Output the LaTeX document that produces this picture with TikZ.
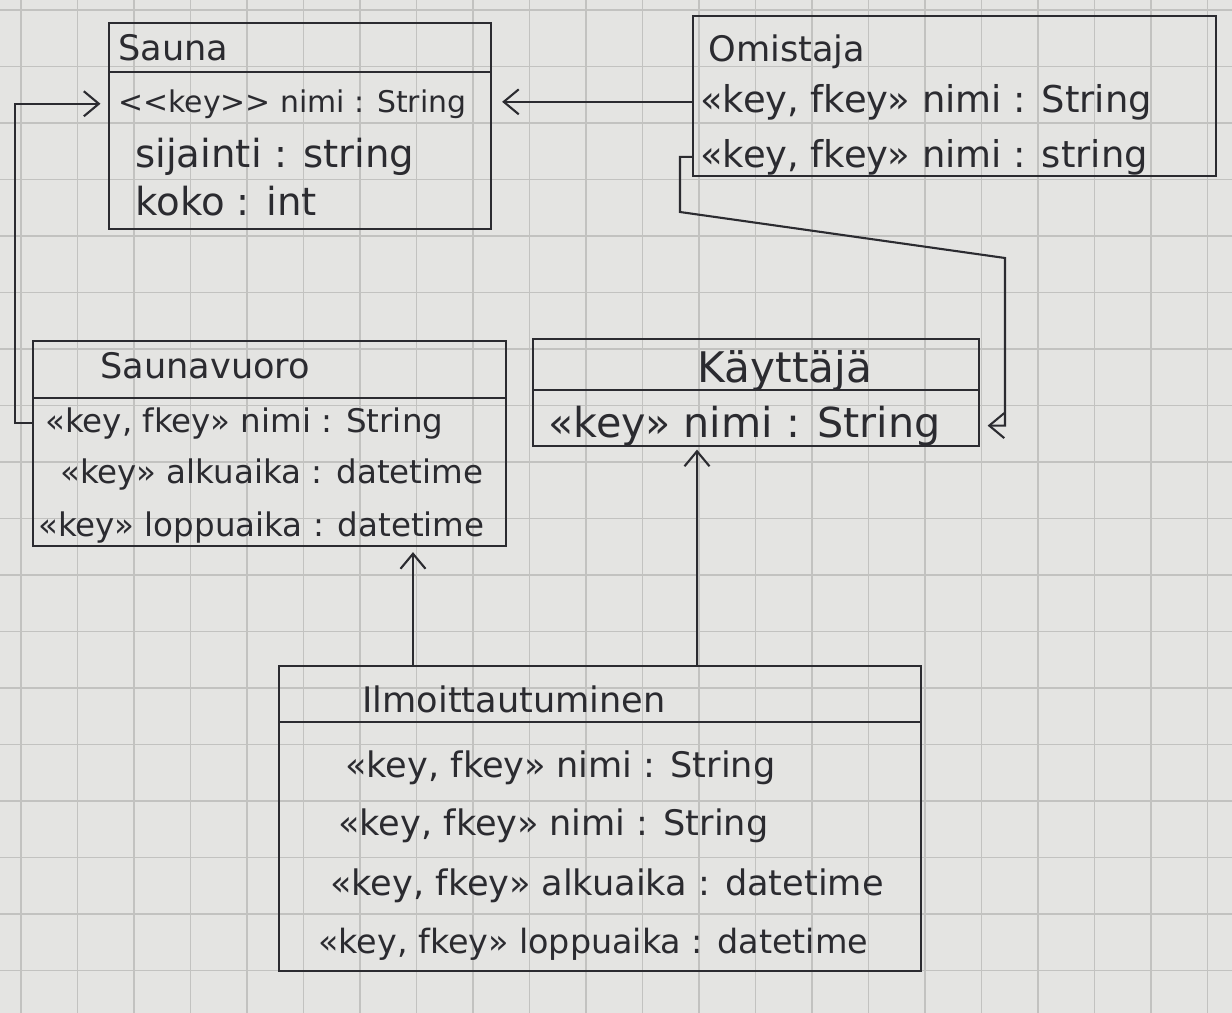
\documentclass[tikz,border=0pt]{standalone}
\usepackage{fontspec}
\setmainfont{DejaVu Sans}
\usetikzlibrary{arrows.meta,positioning,calc}

\definecolor{paper}{HTML}{E4E4E2}
\definecolor{gridline}{HTML}{C2C2C0}
\definecolor{ink}{HTML}{2B2B30}

\tikzset{
	classbox/.style={draw=ink, line width=1.2pt, anchor=north west, inner sep=0pt},
	divider/.style={draw=ink, line width=1.2pt},
	attr/.style={anchor=base west, inner sep=0pt, text=ink, font=\fontsize{20}{24}\selectfont},
	title/.style={attr, font=\fontsize{20}{24}\selectfont},
	assoc/.style={draw=ink, line width=1.2pt, -{Straight Barb[length=3mm,width=5mm]}},
}

\begin{document}
\begin{tikzpicture}[x=0.2mm, y=-0.2mm]
	% paper
	\fill[paper] (0,0) rectangle (1232,1013);
	\useasboundingbox (0,0) rectangle (1232,1013);
	\foreach \gx in {0,...,21}
		\draw[gridline, line width=0.7pt] ({21+56.5*\gx},0) -- ({21+56.5*\gx},1013);
	\foreach \gy in {0,...,17}
		\draw[gridline, line width=0.7pt] (0,{10+56.5*\gy}) -- (1232,{10+56.5*\gy});
	
	% Sauna
	\node[classbox, minimum width=76.4mm, minimum height=41.2mm] (sauna) at (108,22) {};
	\coordinate (saunaDiv) at (0,72);
	\draw[divider] (sauna.west |- saunaDiv) -- (sauna.east |- saunaDiv);
	\node[title] (saunaT) at (118,60) {Sauna};
	\node[attr, font=\fontsize{17}{20}\selectfont] (saunaA1) at (118,112) {{<}{<}key{>}{>} nimi : String};
	\node[attr, font=\fontsize{22}{26}\selectfont] (saunaA2) at (135,167) {sijainti : string};
	\node[attr, font=\fontsize{22}{26}\selectfont] (saunaA3) at (135,215) {koko : int};
	
	% Omistaja
	\node[classbox, minimum width=104.6mm, minimum height=32mm] (omistaja) at (692,15) {};
	\node[title] (omistajaT) at (708,62) {Omistaja};
	\node[attr, font=\fontsize{21}{25}\selectfont] (omistajaA1) at (700,112) {«key, fkey» nimi : String};
	\node[attr, font=\fontsize{21}{25}\selectfont] (omistajaA2) at (700,167) {«key, fkey» nimi : string};
	
	% Saunavuoro
	\node[classbox, minimum width=94.6mm, minimum height=41mm] (vuoro) at (32,340) {};
	\coordinate (vuoroDiv) at (0,398);
	\draw[divider] (vuoro.west |- vuoroDiv) -- (vuoro.east |- vuoroDiv);
	\node[title] (vuoroT) at (100,378) {Saunavuoro};
	\node[attr, font=\fontsize{18.5}{22}\selectfont] (vuoroA1) at (45,432) {«key, fkey» nimi : String};
	\node[attr, font=\fontsize{18.5}{22}\selectfont] (vuoroA2) at (60,483) {«key» alkuaika : datetime};
	\node[attr, font=\fontsize{18.5}{22}\selectfont] (vuoroA3) at (38,536) {«key» loppuaika : datetime};
	
	% Kayttaja
	\node[classbox, minimum width=89.2mm, minimum height=21.4mm] (kayttaja) at (532,338) {};
	\coordinate (kayttajaDiv) at (0,390);
	\draw[divider] (kayttaja.west |- kayttajaDiv) -- (kayttaja.east |- kayttajaDiv);
	\node[title, anchor=base, font=\fontsize{24}{28}\selectfont] (kayttajaT) at (785,382) {Käyttäjä};
	\node[attr, font=\fontsize{23.5}{28}\selectfont] (kayttajaA1) at (548,437) {«key» nimi : String};
	
	% Ilmoittautuminen
	\node[classbox, minimum width=128.4mm, minimum height=61mm] (ilmo) at (278,665) {};
	\coordinate (ilmoDiv) at (0,722);
	\draw[divider] (ilmo.west |- ilmoDiv) -- (ilmo.east |- ilmoDiv);
	\node[title] (ilmoT) at (362,712) {Ilmoittautuminen};
	\node[attr] (ilmoA1) at (345,777) {«key, fkey» nimi : String};
	\node[attr] (ilmoA2) at (338,835) {«key, fkey» nimi : String};
	\node[attr] (ilmoA3) at (330,895) {«key, fkey» alkuaika : datetime};
	\node[attr, font=\fontsize{19}{23}\selectfont] (ilmoA4) at (318,953) {«key, fkey» loppuaika : datetime};
	
	% connectors
	\draw[assoc, shorten >=2mm] (omistaja.west |- omistajaA1.west) -- (sauna.east |- omistajaA1.west);
	\draw[assoc, shorten >=1.5mm] (vuoro.west |- vuoroA1.west) -- ++(-17,0) |- (sauna.west |- saunaA1.west);
	\coordinate (bendA) at (680,212);
	\coordinate (bendB) at (1005,258);
	\draw[assoc, shorten >=1.5mm] (omistaja.west |- omistajaA2.west) -- (bendA |- omistajaA2.west) -- (bendA) -- (bendB) -- (bendB |- kayttajaA1.west) -- (kayttaja.east |- kayttajaA1.west);
	\coordinate (upA) at (413,0);
	\coordinate (upB) at (697,0);
	\draw[assoc] (ilmo.north -| upA) -- ([yshift=-1mm]vuoro.south -| upA);
	\draw[assoc] (ilmo.north -| upB) -- ([yshift=-0.5mm]kayttaja.south -| upB);
\end{tikzpicture}
\end{document}
